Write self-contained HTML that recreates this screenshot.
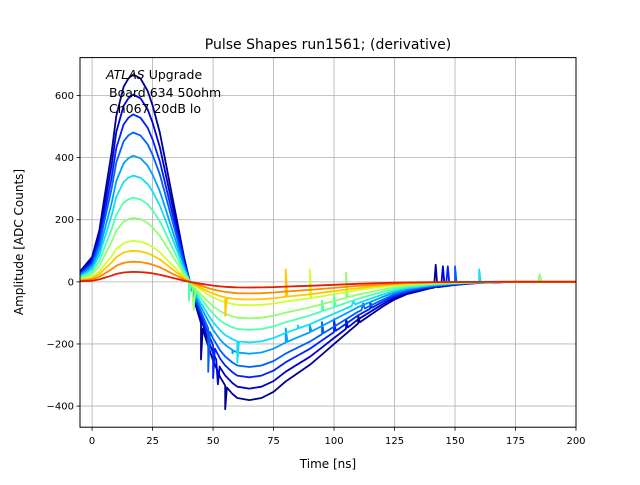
<!DOCTYPE html>
<html><head><meta charset="utf-8"><style>
html,body{margin:0;padding:0;background:#fff;}
svg text{font-family:"DejaVu Sans","Liberation Sans",sans-serif;}
</style></head><body>
<svg id="chart" width="640" height="480" viewBox="0 0 640 480" xmlns="http://www.w3.org/2000/svg">
<rect width="640" height="480" fill="#fff"/>
<g id="grid"></g>
<g id="series"></g>
<rect x="80" y="57.6" width="496" height="369.6" fill="none" stroke="#000" stroke-width="1"/>
<g id="ticks"></g>
<text x="328" y="49" font-size="14" text-anchor="middle">Pulse Shapes run1561; (derivative)</text>
<text x="328" y="468" font-size="12" text-anchor="middle">Time [ns]</text>
<text x="23" y="242" font-size="12" text-anchor="middle" transform="rotate(-90 23 242)">Amplitude [ADC Counts]</text>
<text x="106" y="79" font-size="12.5"><tspan font-style="italic">ATLAS</tspan> Upgrade</text>
<text x="109" y="97" font-size="12.5">Board 634 50ohm</text>
<text x="109" y="113" font-size="12.5">Ch067 20dB lo</text>
</svg>
<script>
const xTicks = [0,25,50,75,100,125,150,175,200];
const yTicks = [-400,-200,0,200,400,600];
const peakAmps = [668,603,539,481,406,342,271,206,132,100,65,32];
const curveColors = ["#00008f","#0000d0","#0020ff","#0060ff","#00a0ff","#10e0f0","#50ffb0","#90ff70","#d0ff30","#ffc800","#ff8a00","#e02000"];
const shapeT = [-5,0,3,5,8,10,13,15,17,20,23,25,28,30,33,35,38,40,43,45,48,50,53,55,58,60,65,70,75,80,85,90,95,100,105,110,115,120,125,130,135,140,150,160,175,200];
const shapeV = [0.05,0.12,0.25,0.4,0.62,0.8,0.94,0.98,1,0.98,0.92,0.85,0.72,0.6,0.42,0.3,0.12,0.02,-0.12,-0.2,-0.31,-0.38,-0.46,-0.5,-0.54,-0.56,-0.57,-0.56,-0.53,-0.48,-0.44,-0.4,-0.35,-0.3,-0.25,-0.2,-0.16,-0.12,-0.085,-0.06,-0.045,-0.03,-0.015,-0.005,0,0];
// spikes: [curveIndex, time, amplitude]
const spikeCurve = [0,0,1,2,3,9,9,8,7,7,6,5,4,0,1,2,3,5,7,6,4,5,4,3,2,1,0,6,5,3,2];
const spikeTime  = [55,45,52,50,48,55,80,90,42,105,40,60,58,142,145,147,150,160,185,95,80,85,90,95,100,105,110,100,108,112,115];
const spikeVal   = [-410,-250,-330,-310,-290,-110,40,40,-90,30,-60,-260,-230,55,50,50,50,40,25,-60,-150,-140,-140,-130,-120,-120,-110,-40,-60,-70,-65];

const X0=80,X1=576,Y0=57.6,Y1=427.2,XMIN=-5,XMAX=200,YMIN=-468,YMAX=722;
function xs(t){return X0+(t-XMIN)/(XMAX-XMIN)*(X1-X0);}
function ys(v){return Y1-(v-YMIN)/(YMAX-YMIN)*(Y1-Y0);}
const NS="http://www.w3.org/2000/svg";
const grid=document.getElementById('grid'),ticks=document.getElementById('ticks'),ser=document.getElementById('series');
function mk(tag,attrs,parent){const e=document.createElementNS(NS,tag);for(const k in attrs)e.setAttribute(k,attrs[k]);parent.appendChild(e);return e;}
xTicks.forEach(t=>{
  const x=xs(t);
  const g=mk('line',{x1:x,x2:x,y1:Y0,y2:Y1,stroke:'#b0b0b0','stroke-width':0.8},grid);
  
  
  const tk=mk('line',{x1:x,x2:x,y1:Y1,y2:Y1+3.5,stroke:'#000','stroke-width':0.8},ticks);
  
  
  const tx=mk('text',{x:x,y:Y1+17,'font-size':10,'text-anchor':'middle'},ticks);
  tx.textContent=t;
  
  
});
yTicks.forEach(v=>{
  const y=ys(v);
  const g=mk('line',{x1:X0,x2:X1,y1:y,y2:y,stroke:'#b0b0b0','stroke-width':0.8},grid);
  
  
  const tk=mk('line',{x1:X0-3.5,x2:X0,y1:y,y2:y,stroke:'#000','stroke-width':0.8},ticks);
  
  
  const tx=mk('text',{x:X0-6,y:y+3.5,'font-size':10,'text-anchor':'end'},ticks);
  tx.textContent=(v<0?'\u2212'+(-v):v);
  
  
});
function baseAt(t){for(let i=1;i<shapeT.length;i++){if(t<=shapeT[i]){const f=(t-shapeT[i-1])/(shapeT[i]-shapeT[i-1]);return shapeV[i-1]+f*(shapeV[i]-shapeV[i-1]);}}return 0;}
peakAmps.forEach((A,ci)=>{
  let pts=shapeT.map((t,i)=>[t,A*shapeV[i]]);
  spikeCurve.forEach((c,si)=>{
    if(c!==ci)return;
    const t=spikeTime[si];
    pts.push([t-0.7,A*baseAt(t-0.7)],[t,spikeVal[si]],[t+0.7,A*baseAt(t+0.7)]);
  });
  pts.sort((a,b)=>a[0]-b[0]);
  const p=mk('polyline',{points:pts.map(q=>xs(q[0]).toFixed(1)+','+ys(q[1]).toFixed(1)).join(' '),fill:'none',stroke:curveColors[ci],'stroke-width':1.8,'stroke-linejoin':'round'},ser);
  
  
});
</script>
</body></html>
